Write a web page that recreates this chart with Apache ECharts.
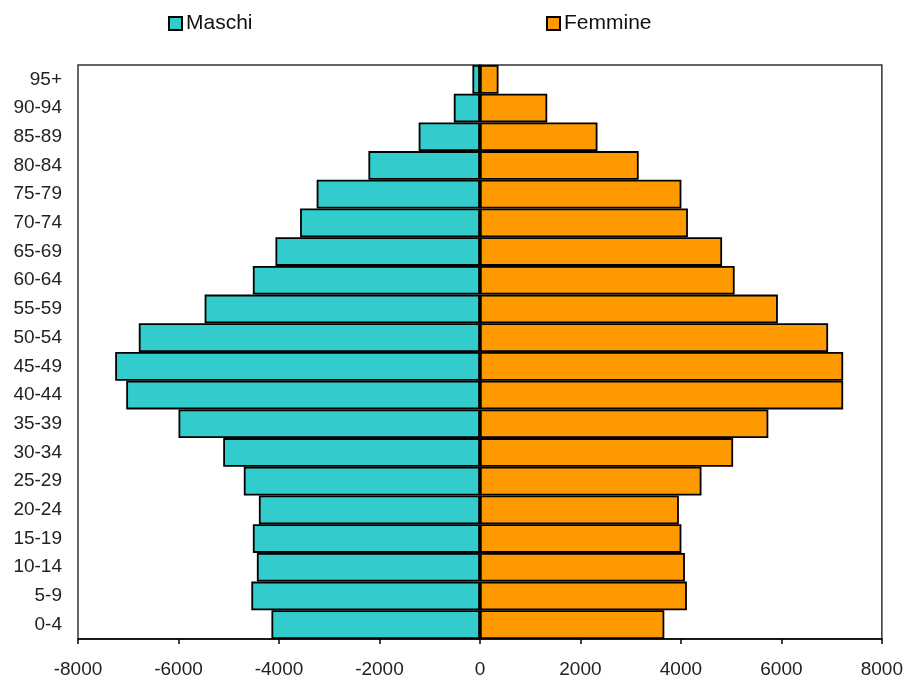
<!DOCTYPE html>
<html>
<head>
<meta charset="utf-8">
<script src="https://cdn.jsdelivr.net/npm/echarts@6/dist/echarts.min.js"></script>
<style>
  html, body { margin: 0; padding: 0; background: #fff; }
  #chart { width: 906px; height: 679px; }
</style>
</head>
<body>
<div id="chart"></div>
<script>
// fasce d'età, dal basso verso l'alto
var ageGroups = ['0-4', '5-9', '10-14', '15-19', '20-24', '25-29', '30-34', '35-39', '40-44', '45-49',
                 '50-54', '55-59', '60-64', '65-69', '70-74', '75-79', '80-84', '85-89', '90-94', '95+'];
// maschi (negativi, a sinistra)
var maschi = [-4150, -4550, -4440, -4520, -4400, -4700, -5110, -6000, -7040, -7260,
              -6790, -5480, -4520, -4070, -3580, -3250, -2220, -1220, -520, -150];
// femmine (positivi, a destra)
var femmine = [3670, 4120, 4080, 4010, 3960, 4410, 5040, 5740, 7230, 7230,
               6930, 5930, 5070, 4820, 4140, 4010, 3160, 2340, 1340, 370];
var xTicks = { min: -8000, max: 8000, interval: 2000 };

var chart = echarts.init(document.getElementById('chart'));
var font = 'Liberation Sans, Arial, sans-serif';

var option = {
  animation: false,
  legend: [
    {
      left: 163, top: 8,
      itemWidth: 13, itemHeight: 13, itemGap: 4,
      icon: 'rect',
      data: ['Maschi'],
      textStyle: { fontFamily: font, fontSize: 21, color: '#111', padding: [0, 0, 0, -1] }
    },
    {
      left: 541, top: 8,
      itemWidth: 13, itemHeight: 13, itemGap: 4,
      icon: 'rect',
      data: ['Femmine'],
      textStyle: { fontFamily: font, fontSize: 21, color: '#111', padding: [0, 0, 0, -1] }
    }
  ],
  grid: {
    left: 78, right: 21, top: 65, bottom: 40,
    show: true, borderColor: '#333', borderWidth: 1.5, backgroundColor: '#fff'
  },
  xAxis: {
    type: 'value',
    min: xTicks.min, max: xTicks.max, interval: xTicks.interval,
    splitLine: { show: false },
    axisLine: { show: true, lineStyle: { color: '#000', width: 1.5 } },
    axisTick: { show: true, length: 5, lineStyle: { color: '#000', width: 1.5 } },
    axisLabel: {
      fontFamily: font, fontSize: 19, color: '#222', margin: 21,
      formatter: function (v) { return String(v); }
    }
  },
  yAxis: {
    type: 'category',
    data: ageGroups,
    axisLine: { show: true, lineStyle: { color: '#000', width: 1.5 } },
    axisTick: { show: false },
    axisLabel: { fontFamily: font, fontSize: 19, color: '#222', margin: 16 }
  },
  series: [
    {
      name: 'Maschi',
      type: 'bar',
      stack: 'tot',
      data: maschi,
      barCategoryGap: '0%',
      itemStyle: { color: '#33CCCC', borderColor: '#000', borderWidth: 1.8 }
    },
    {
      name: 'Femmine',
      type: 'bar',
      stack: 'tot',
      data: femmine,
      barCategoryGap: '0%',
      itemStyle: { color: '#FF9900', borderColor: '#000', borderWidth: 1.8 }
    }
  ]
};

chart.setOption(option);
</script>
</body>
</html>
